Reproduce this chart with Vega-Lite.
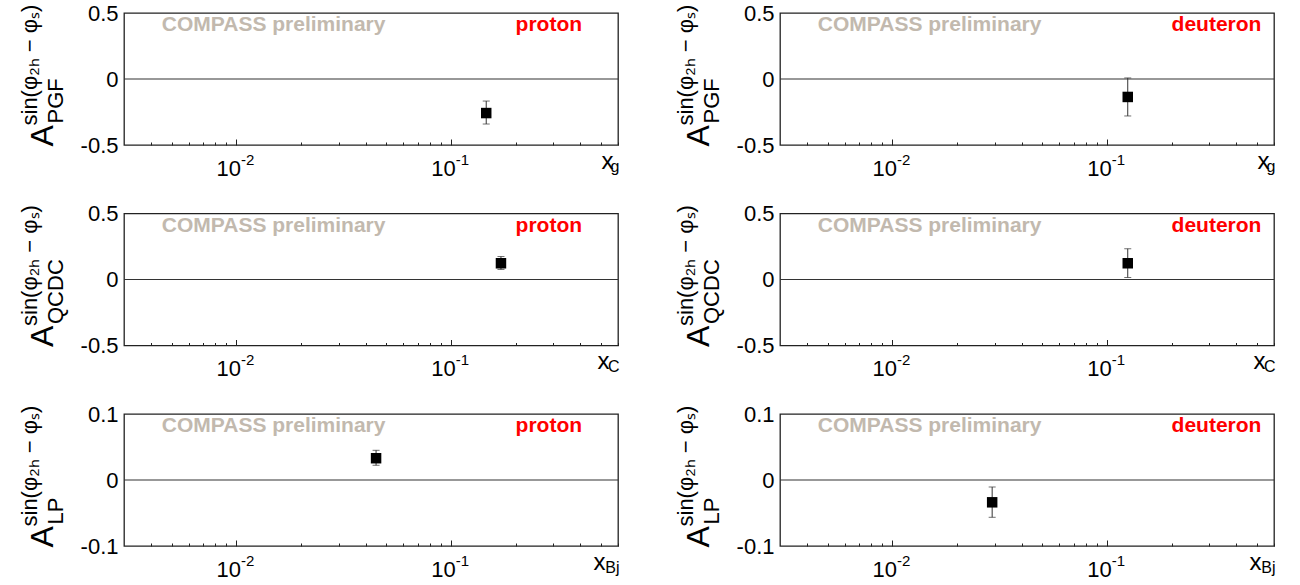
{
"$schema": "https://vega.github.io/schema/vega-lite/v6.json",
"background": "white",
"padding": {"left": 17, "top": 1, "right": 5, "bottom": 5},
"columns": 2,
"spacing": {"row": 68.5, "column": 162},
"bounds": "flush",
"config": {
  "font": "Liberation Sans",
  "view": {"stroke": "#222222", "strokeWidth": 1.3},
  "axis": {"grid": false, "domain": false, "labelFont": "Liberation Sans", "titleFont": "Liberation Sans", "labelColor": "#000000", "titleColor": "#000000", "titleFontWeight": "normal", "tickColor": "#222222", "labelFlush": false, "labelOverlap": false, "labelBound": false},
  "text": {"font": "Liberation Sans"}
},
"concat": [
{
"width": 494, "height": 132,
"data": {"values": [{"x": 0.146, "y": -0.258, "lo": -0.341, "hi": -0.167}]},
"resolve": {"axis": {"x": "independent", "y": "independent"}},
"layer": [
 {"mark": {"type": "rule", "color": "#333333", "strokeWidth": 1.2},
  "encoding": {"y": {"datum": 0, "type": "quantitative", "scale": {"domain": [-0.5, 0.5], "nice": false, "zero": false},
   "axis": {"orient": "left", "values": [-0.5, 0, 0.5], "ticks": false, "labelPadding": 6, "labelFontSize": 22, "labelExpr": "datum.value == 0 ? '0' : (datum.value < 0 ? '-' + toString(-datum.value) : toString(datum.value))", "title": "A", "titleFontSize": 32, "titleAngle": -90, "titleAlign": "left", "titleBaseline": "alphabetic", "titleX": -72, "titleY": 133}}}},
 {"mark": {"type": "errorbar", "color": "#333333", "thickness": 1, "ticks": {"size": 7}},
  "encoding": {"x": {"field": "x", "type": "quantitative", "scale": {"type": "log", "domain": [0.003, 0.6], "nice": false}, "axis": null},
   "y": {"field": "lo", "type": "quantitative", "scale": {"domain": [-0.5, 0.5], "nice": false, "zero": false}, "axis": null}, "y2": {"field": "hi"}}},
 {"mark": {"type": "point", "shape": "square", "filled": true, "size": 110, "color": "#000000", "opacity": 1},
  "encoding": {"x": {"field": "x", "type": "quantitative", "scale": {"type": "log", "domain": [0.003, 0.6], "nice": false},
    "axis": {"orient": "bottom", "values": [0.01, 0.1], "tickSize": -6, "tickWidth": 1, "labelExpr": "'10'", "labelFontSize": 22, "labelBaseline": "alphabetic", "labelPadding": 36, "labelOffset": -8, "title": "x", "titleFontSize": 24, "titleAlign": "right", "titleBaseline": "alphabetic", "titleX": 489, "titleY": 23}},
   "y": {"field": "y", "type": "quantitative", "scale": {"domain": [-0.5, 0.5], "nice": false, "zero": false},
    "axis": {"orient": "left", "ticks": false, "labels": false, "title": "PGF", "titleFontSize": 22, "titleAngle": -90, "titleAlign": "left", "titleBaseline": "alphabetic", "titleX": -62, "titleY": 110}}}},
 {"mark": {"type": "text", "text": "COMPASS preliminary", "align": "left", "baseline": "alphabetic", "fontSize": 21, "fontWeight": "bold", "color": "#c2b9ae"},
  "encoding": {"x": {"datum": 0.0045, "type": "quantitative", "scale": {"type": "log", "domain": [0.003, 0.6], "nice": false},
    "axis": {"orient": "bottom", "values": [0.004, 0.005, 0.006, 0.007, 0.008, 0.009, 0.02, 0.03, 0.04, 0.05, 0.06, 0.07, 0.08, 0.09, 0.2, 0.3, 0.4, 0.5, 0.6], "tickSize": -3, "tickWidth": 1, "labels": false, "title": "g", "titleFontSize": 16, "titleAlign": "right", "titleBaseline": "alphabetic", "titleX": 495, "titleY": 26}},
   "y": {"datum": 0.36, "type": "quantitative", "scale": {"domain": [-0.5, 0.5], "nice": false, "zero": false},
    "axis": {"orient": "left", "ticks": false, "labels": false, "title": "sin(φ₂ₕ − φₛ)", "titleFontSize": 22, "titleAngle": -90, "titleAlign": "left", "titleBaseline": "alphabetic", "titleX": -88, "titleY": 112}}}},
 {"mark": {"type": "text", "text": "proton", "align": "left", "baseline": "alphabetic", "fontSize": 21, "fontWeight": "bold", "color": "#ff0000"},
  "encoding": {"x": {"datum": 0.2, "type": "quantitative", "scale": {"type": "log", "domain": [0.003, 0.6], "nice": false},
    "axis": {"orient": "bottom", "values": [0.01, 0.1], "ticks": false, "labelExpr": "datum.value < 0.05 ? '-2' : '-1'", "labelFontSize": 15, "labelBaseline": "alphabetic", "labelPadding": 19, "labelOffset": 11, "title": null}},
   "y": {"datum": 0.36, "type": "quantitative", "scale": {"domain": [-0.5, 0.5], "nice": false, "zero": false}, "axis": null}}}
]
},
{
"width": 494, "height": 132,
"data": {"values": [{"x": 0.125, "y": -0.136, "lo": -0.28, "hi": 0.008}]},
"resolve": {"axis": {"x": "independent", "y": "independent"}},
"layer": [
 {"mark": {"type": "rule", "color": "#333333", "strokeWidth": 1.2},
  "encoding": {"y": {"datum": 0, "type": "quantitative", "scale": {"domain": [-0.5, 0.5], "nice": false, "zero": false},
   "axis": {"orient": "left", "values": [-0.5, 0, 0.5], "ticks": false, "labelPadding": 6, "labelFontSize": 22, "labelExpr": "datum.value == 0 ? '0' : (datum.value < 0 ? '-' + toString(-datum.value) : toString(datum.value))", "title": "A", "titleFontSize": 32, "titleAngle": -90, "titleAlign": "left", "titleBaseline": "alphabetic", "titleX": -72, "titleY": 133}}}},
 {"mark": {"type": "errorbar", "color": "#333333", "thickness": 1, "ticks": {"size": 7}},
  "encoding": {"x": {"field": "x", "type": "quantitative", "scale": {"type": "log", "domain": [0.003, 0.6], "nice": false}, "axis": null},
   "y": {"field": "lo", "type": "quantitative", "scale": {"domain": [-0.5, 0.5], "nice": false, "zero": false}, "axis": null}, "y2": {"field": "hi"}}},
 {"mark": {"type": "point", "shape": "square", "filled": true, "size": 110, "color": "#000000", "opacity": 1},
  "encoding": {"x": {"field": "x", "type": "quantitative", "scale": {"type": "log", "domain": [0.003, 0.6], "nice": false},
    "axis": {"orient": "bottom", "values": [0.01, 0.1], "tickSize": -6, "tickWidth": 1, "labelExpr": "'10'", "labelFontSize": 22, "labelBaseline": "alphabetic", "labelPadding": 36, "labelOffset": -8, "title": "x", "titleFontSize": 24, "titleAlign": "right", "titleBaseline": "alphabetic", "titleX": 489, "titleY": 23}},
   "y": {"field": "y", "type": "quantitative", "scale": {"domain": [-0.5, 0.5], "nice": false, "zero": false},
    "axis": {"orient": "left", "ticks": false, "labels": false, "title": "PGF", "titleFontSize": 22, "titleAngle": -90, "titleAlign": "left", "titleBaseline": "alphabetic", "titleX": -62, "titleY": 110}}}},
 {"mark": {"type": "text", "text": "COMPASS preliminary", "align": "left", "baseline": "alphabetic", "fontSize": 21, "fontWeight": "bold", "color": "#c2b9ae"},
  "encoding": {"x": {"datum": 0.0045, "type": "quantitative", "scale": {"type": "log", "domain": [0.003, 0.6], "nice": false},
    "axis": {"orient": "bottom", "values": [0.004, 0.005, 0.006, 0.007, 0.008, 0.009, 0.02, 0.03, 0.04, 0.05, 0.06, 0.07, 0.08, 0.09, 0.2, 0.3, 0.4, 0.5, 0.6], "tickSize": -3, "tickWidth": 1, "labels": false, "title": "g", "titleFontSize": 16, "titleAlign": "right", "titleBaseline": "alphabetic", "titleX": 495, "titleY": 26}},
   "y": {"datum": 0.36, "type": "quantitative", "scale": {"domain": [-0.5, 0.5], "nice": false, "zero": false},
    "axis": {"orient": "left", "ticks": false, "labels": false, "title": "sin(φ₂ₕ − φₛ)", "titleFontSize": 22, "titleAngle": -90, "titleAlign": "left", "titleBaseline": "alphabetic", "titleX": -88, "titleY": 112}}}},
 {"mark": {"type": "text", "text": "deuteron", "align": "left", "baseline": "alphabetic", "fontSize": 21, "fontWeight": "bold", "color": "#ff0000"},
  "encoding": {"x": {"datum": 0.2, "type": "quantitative", "scale": {"type": "log", "domain": [0.003, 0.6], "nice": false},
    "axis": {"orient": "bottom", "values": [0.01, 0.1], "ticks": false, "labelExpr": "datum.value < 0.05 ? '-2' : '-1'", "labelFontSize": 15, "labelBaseline": "alphabetic", "labelPadding": 19, "labelOffset": 11, "title": null}},
   "y": {"datum": 0.36, "type": "quantitative", "scale": {"domain": [-0.5, 0.5], "nice": false, "zero": false}, "axis": null}}}
]
},
{
"width": 494, "height": 132,
"data": {"values": [{"x": 0.171, "y": 0.123, "lo": 0.076, "hi": 0.174}]},
"resolve": {"axis": {"x": "independent", "y": "independent"}},
"layer": [
 {"mark": {"type": "rule", "color": "#333333", "strokeWidth": 1.2},
  "encoding": {"y": {"datum": 0, "type": "quantitative", "scale": {"domain": [-0.5, 0.5], "nice": false, "zero": false},
   "axis": {"orient": "left", "values": [-0.5, 0, 0.5], "ticks": false, "labelPadding": 6, "labelFontSize": 22, "labelExpr": "datum.value == 0 ? '0' : (datum.value < 0 ? '-' + toString(-datum.value) : toString(datum.value))", "title": "A", "titleFontSize": 32, "titleAngle": -90, "titleAlign": "left", "titleBaseline": "alphabetic", "titleX": -72, "titleY": 133}}}},
 {"mark": {"type": "errorbar", "color": "#333333", "thickness": 1, "ticks": {"size": 7}},
  "encoding": {"x": {"field": "x", "type": "quantitative", "scale": {"type": "log", "domain": [0.003, 0.6], "nice": false}, "axis": null},
   "y": {"field": "lo", "type": "quantitative", "scale": {"domain": [-0.5, 0.5], "nice": false, "zero": false}, "axis": null}, "y2": {"field": "hi"}}},
 {"mark": {"type": "point", "shape": "square", "filled": true, "size": 110, "color": "#000000", "opacity": 1},
  "encoding": {"x": {"field": "x", "type": "quantitative", "scale": {"type": "log", "domain": [0.003, 0.6], "nice": false},
    "axis": {"orient": "bottom", "values": [0.01, 0.1], "tickSize": -6, "tickWidth": 1, "labelExpr": "'10'", "labelFontSize": 22, "labelBaseline": "alphabetic", "labelPadding": 36, "labelOffset": -8, "title": "x", "titleFontSize": 24, "titleAlign": "right", "titleBaseline": "alphabetic", "titleX": 485, "titleY": 23}},
   "y": {"field": "y", "type": "quantitative", "scale": {"domain": [-0.5, 0.5], "nice": false, "zero": false},
    "axis": {"orient": "left", "ticks": false, "labels": false, "title": "QCDC", "titleFontSize": 22, "titleAngle": -90, "titleAlign": "left", "titleBaseline": "alphabetic", "titleX": -62, "titleY": 110}}}},
 {"mark": {"type": "text", "text": "COMPASS preliminary", "align": "left", "baseline": "alphabetic", "fontSize": 21, "fontWeight": "bold", "color": "#c2b9ae"},
  "encoding": {"x": {"datum": 0.0045, "type": "quantitative", "scale": {"type": "log", "domain": [0.003, 0.6], "nice": false},
    "axis": {"orient": "bottom", "values": [0.004, 0.005, 0.006, 0.007, 0.008, 0.009, 0.02, 0.03, 0.04, 0.05, 0.06, 0.07, 0.08, 0.09, 0.2, 0.3, 0.4, 0.5, 0.6], "tickSize": -3, "tickWidth": 1, "labels": false, "title": "C", "titleFontSize": 16, "titleAlign": "right", "titleBaseline": "alphabetic", "titleX": 495, "titleY": 26}},
   "y": {"datum": 0.36, "type": "quantitative", "scale": {"domain": [-0.5, 0.5], "nice": false, "zero": false},
    "axis": {"orient": "left", "ticks": false, "labels": false, "title": "sin(φ₂ₕ − φₛ)", "titleFontSize": 22, "titleAngle": -90, "titleAlign": "left", "titleBaseline": "alphabetic", "titleX": -88, "titleY": 112}}}},
 {"mark": {"type": "text", "text": "proton", "align": "left", "baseline": "alphabetic", "fontSize": 21, "fontWeight": "bold", "color": "#ff0000"},
  "encoding": {"x": {"datum": 0.2, "type": "quantitative", "scale": {"type": "log", "domain": [0.003, 0.6], "nice": false},
    "axis": {"orient": "bottom", "values": [0.01, 0.1], "ticks": false, "labelExpr": "datum.value < 0.05 ? '-2' : '-1'", "labelFontSize": 15, "labelBaseline": "alphabetic", "labelPadding": 19, "labelOffset": 11, "title": null}},
   "y": {"datum": 0.36, "type": "quantitative", "scale": {"domain": [-0.5, 0.5], "nice": false, "zero": false}, "axis": null}}}
]
},
{
"width": 494, "height": 132,
"data": {"values": [{"x": 0.125, "y": 0.123, "lo": 0.015, "hi": 0.233}]},
"resolve": {"axis": {"x": "independent", "y": "independent"}},
"layer": [
 {"mark": {"type": "rule", "color": "#333333", "strokeWidth": 1.2},
  "encoding": {"y": {"datum": 0, "type": "quantitative", "scale": {"domain": [-0.5, 0.5], "nice": false, "zero": false},
   "axis": {"orient": "left", "values": [-0.5, 0, 0.5], "ticks": false, "labelPadding": 6, "labelFontSize": 22, "labelExpr": "datum.value == 0 ? '0' : (datum.value < 0 ? '-' + toString(-datum.value) : toString(datum.value))", "title": "A", "titleFontSize": 32, "titleAngle": -90, "titleAlign": "left", "titleBaseline": "alphabetic", "titleX": -72, "titleY": 133}}}},
 {"mark": {"type": "errorbar", "color": "#333333", "thickness": 1, "ticks": {"size": 7}},
  "encoding": {"x": {"field": "x", "type": "quantitative", "scale": {"type": "log", "domain": [0.003, 0.6], "nice": false}, "axis": null},
   "y": {"field": "lo", "type": "quantitative", "scale": {"domain": [-0.5, 0.5], "nice": false, "zero": false}, "axis": null}, "y2": {"field": "hi"}}},
 {"mark": {"type": "point", "shape": "square", "filled": true, "size": 110, "color": "#000000", "opacity": 1},
  "encoding": {"x": {"field": "x", "type": "quantitative", "scale": {"type": "log", "domain": [0.003, 0.6], "nice": false},
    "axis": {"orient": "bottom", "values": [0.01, 0.1], "tickSize": -6, "tickWidth": 1, "labelExpr": "'10'", "labelFontSize": 22, "labelBaseline": "alphabetic", "labelPadding": 36, "labelOffset": -8, "title": "x", "titleFontSize": 24, "titleAlign": "right", "titleBaseline": "alphabetic", "titleX": 485, "titleY": 23}},
   "y": {"field": "y", "type": "quantitative", "scale": {"domain": [-0.5, 0.5], "nice": false, "zero": false},
    "axis": {"orient": "left", "ticks": false, "labels": false, "title": "QCDC", "titleFontSize": 22, "titleAngle": -90, "titleAlign": "left", "titleBaseline": "alphabetic", "titleX": -62, "titleY": 110}}}},
 {"mark": {"type": "text", "text": "COMPASS preliminary", "align": "left", "baseline": "alphabetic", "fontSize": 21, "fontWeight": "bold", "color": "#c2b9ae"},
  "encoding": {"x": {"datum": 0.0045, "type": "quantitative", "scale": {"type": "log", "domain": [0.003, 0.6], "nice": false},
    "axis": {"orient": "bottom", "values": [0.004, 0.005, 0.006, 0.007, 0.008, 0.009, 0.02, 0.03, 0.04, 0.05, 0.06, 0.07, 0.08, 0.09, 0.2, 0.3, 0.4, 0.5, 0.6], "tickSize": -3, "tickWidth": 1, "labels": false, "title": "C", "titleFontSize": 16, "titleAlign": "right", "titleBaseline": "alphabetic", "titleX": 495, "titleY": 26}},
   "y": {"datum": 0.36, "type": "quantitative", "scale": {"domain": [-0.5, 0.5], "nice": false, "zero": false},
    "axis": {"orient": "left", "ticks": false, "labels": false, "title": "sin(φ₂ₕ − φₛ)", "titleFontSize": 22, "titleAngle": -90, "titleAlign": "left", "titleBaseline": "alphabetic", "titleX": -88, "titleY": 112}}}},
 {"mark": {"type": "text", "text": "deuteron", "align": "left", "baseline": "alphabetic", "fontSize": 21, "fontWeight": "bold", "color": "#ff0000"},
  "encoding": {"x": {"datum": 0.2, "type": "quantitative", "scale": {"type": "log", "domain": [0.003, 0.6], "nice": false},
    "axis": {"orient": "bottom", "values": [0.01, 0.1], "ticks": false, "labelExpr": "datum.value < 0.05 ? '-2' : '-1'", "labelFontSize": 15, "labelBaseline": "alphabetic", "labelPadding": 19, "labelOffset": 11, "title": null}},
   "y": {"datum": 0.36, "type": "quantitative", "scale": {"domain": [-0.5, 0.5], "nice": false, "zero": false}, "axis": null}}}
]
},
{
"width": 494, "height": 132,
"data": {"values": [{"x": 0.0448, "y": 0.033, "lo": 0.0223, "hi": 0.045}]},
"resolve": {"axis": {"x": "independent", "y": "independent"}},
"layer": [
 {"mark": {"type": "rule", "color": "#333333", "strokeWidth": 1.2},
  "encoding": {"y": {"datum": 0, "type": "quantitative", "scale": {"domain": [-0.1, 0.1], "nice": false, "zero": false},
   "axis": {"orient": "left", "values": [-0.1, 0, 0.1], "ticks": false, "labelPadding": 6, "labelFontSize": 22, "labelExpr": "datum.value == 0 ? '0' : (datum.value < 0 ? '-' + toString(-datum.value) : toString(datum.value))", "title": "A", "titleFontSize": 32, "titleAngle": -90, "titleAlign": "left", "titleBaseline": "alphabetic", "titleX": -72, "titleY": 133}}}},
 {"mark": {"type": "errorbar", "color": "#333333", "thickness": 1, "ticks": {"size": 7}},
  "encoding": {"x": {"field": "x", "type": "quantitative", "scale": {"type": "log", "domain": [0.003, 0.6], "nice": false}, "axis": null},
   "y": {"field": "lo", "type": "quantitative", "scale": {"domain": [-0.1, 0.1], "nice": false, "zero": false}, "axis": null}, "y2": {"field": "hi"}}},
 {"mark": {"type": "point", "shape": "square", "filled": true, "size": 110, "color": "#000000", "opacity": 1},
  "encoding": {"x": {"field": "x", "type": "quantitative", "scale": {"type": "log", "domain": [0.003, 0.6], "nice": false},
    "axis": {"orient": "bottom", "values": [0.01, 0.1], "tickSize": -6, "tickWidth": 1, "labelExpr": "'10'", "labelFontSize": 22, "labelBaseline": "alphabetic", "labelPadding": 36, "labelOffset": -8, "title": "x", "titleFontSize": 24, "titleAlign": "right", "titleBaseline": "alphabetic", "titleX": 481, "titleY": 23}},
   "y": {"field": "y", "type": "quantitative", "scale": {"domain": [-0.1, 0.1], "nice": false, "zero": false},
    "axis": {"orient": "left", "ticks": false, "labels": false, "title": "LP", "titleFontSize": 22, "titleAngle": -90, "titleAlign": "left", "titleBaseline": "alphabetic", "titleX": -62, "titleY": 110}}}},
 {"mark": {"type": "text", "text": "COMPASS preliminary", "align": "left", "baseline": "alphabetic", "fontSize": 21, "fontWeight": "bold", "color": "#c2b9ae"},
  "encoding": {"x": {"datum": 0.0045, "type": "quantitative", "scale": {"type": "log", "domain": [0.003, 0.6], "nice": false},
    "axis": {"orient": "bottom", "values": [0.004, 0.005, 0.006, 0.007, 0.008, 0.009, 0.02, 0.03, 0.04, 0.05, 0.06, 0.07, 0.08, 0.09, 0.2, 0.3, 0.4, 0.5, 0.6], "tickSize": -3, "tickWidth": 1, "labels": false, "title": "Bj", "titleFontSize": 16, "titleAlign": "right", "titleBaseline": "alphabetic", "titleX": 495, "titleY": 26}},
   "y": {"datum": 0.072, "type": "quantitative", "scale": {"domain": [-0.1, 0.1], "nice": false, "zero": false},
    "axis": {"orient": "left", "ticks": false, "labels": false, "title": "sin(φ₂ₕ − φₛ)", "titleFontSize": 22, "titleAngle": -90, "titleAlign": "left", "titleBaseline": "alphabetic", "titleX": -88, "titleY": 112}}}},
 {"mark": {"type": "text", "text": "proton", "align": "left", "baseline": "alphabetic", "fontSize": 21, "fontWeight": "bold", "color": "#ff0000"},
  "encoding": {"x": {"datum": 0.2, "type": "quantitative", "scale": {"type": "log", "domain": [0.003, 0.6], "nice": false},
    "axis": {"orient": "bottom", "values": [0.01, 0.1], "ticks": false, "labelExpr": "datum.value < 0.05 ? '-2' : '-1'", "labelFontSize": 15, "labelBaseline": "alphabetic", "labelPadding": 19, "labelOffset": 11, "title": null}},
   "y": {"datum": 0.072, "type": "quantitative", "scale": {"domain": [-0.1, 0.1], "nice": false, "zero": false}, "axis": null}}}
]
},
{
"width": 494, "height": 132,
"data": {"values": [{"x": 0.0292, "y": -0.0338, "lo": -0.0565, "hi": -0.0106}]},
"resolve": {"axis": {"x": "independent", "y": "independent"}},
"layer": [
 {"mark": {"type": "rule", "color": "#333333", "strokeWidth": 1.2},
  "encoding": {"y": {"datum": 0, "type": "quantitative", "scale": {"domain": [-0.1, 0.1], "nice": false, "zero": false},
   "axis": {"orient": "left", "values": [-0.1, 0, 0.1], "ticks": false, "labelPadding": 6, "labelFontSize": 22, "labelExpr": "datum.value == 0 ? '0' : (datum.value < 0 ? '-' + toString(-datum.value) : toString(datum.value))", "title": "A", "titleFontSize": 32, "titleAngle": -90, "titleAlign": "left", "titleBaseline": "alphabetic", "titleX": -72, "titleY": 133}}}},
 {"mark": {"type": "errorbar", "color": "#333333", "thickness": 1, "ticks": {"size": 7}},
  "encoding": {"x": {"field": "x", "type": "quantitative", "scale": {"type": "log", "domain": [0.003, 0.6], "nice": false}, "axis": null},
   "y": {"field": "lo", "type": "quantitative", "scale": {"domain": [-0.1, 0.1], "nice": false, "zero": false}, "axis": null}, "y2": {"field": "hi"}}},
 {"mark": {"type": "point", "shape": "square", "filled": true, "size": 110, "color": "#000000", "opacity": 1},
  "encoding": {"x": {"field": "x", "type": "quantitative", "scale": {"type": "log", "domain": [0.003, 0.6], "nice": false},
    "axis": {"orient": "bottom", "values": [0.01, 0.1], "tickSize": -6, "tickWidth": 1, "labelExpr": "'10'", "labelFontSize": 22, "labelBaseline": "alphabetic", "labelPadding": 36, "labelOffset": -8, "title": "x", "titleFontSize": 24, "titleAlign": "right", "titleBaseline": "alphabetic", "titleX": 481, "titleY": 23}},
   "y": {"field": "y", "type": "quantitative", "scale": {"domain": [-0.1, 0.1], "nice": false, "zero": false},
    "axis": {"orient": "left", "ticks": false, "labels": false, "title": "LP", "titleFontSize": 22, "titleAngle": -90, "titleAlign": "left", "titleBaseline": "alphabetic", "titleX": -62, "titleY": 110}}}},
 {"mark": {"type": "text", "text": "COMPASS preliminary", "align": "left", "baseline": "alphabetic", "fontSize": 21, "fontWeight": "bold", "color": "#c2b9ae"},
  "encoding": {"x": {"datum": 0.0045, "type": "quantitative", "scale": {"type": "log", "domain": [0.003, 0.6], "nice": false},
    "axis": {"orient": "bottom", "values": [0.004, 0.005, 0.006, 0.007, 0.008, 0.009, 0.02, 0.03, 0.04, 0.05, 0.06, 0.07, 0.08, 0.09, 0.2, 0.3, 0.4, 0.5, 0.6], "tickSize": -3, "tickWidth": 1, "labels": false, "title": "Bj", "titleFontSize": 16, "titleAlign": "right", "titleBaseline": "alphabetic", "titleX": 495, "titleY": 26}},
   "y": {"datum": 0.072, "type": "quantitative", "scale": {"domain": [-0.1, 0.1], "nice": false, "zero": false},
    "axis": {"orient": "left", "ticks": false, "labels": false, "title": "sin(φ₂ₕ − φₛ)", "titleFontSize": 22, "titleAngle": -90, "titleAlign": "left", "titleBaseline": "alphabetic", "titleX": -88, "titleY": 112}}}},
 {"mark": {"type": "text", "text": "deuteron", "align": "left", "baseline": "alphabetic", "fontSize": 21, "fontWeight": "bold", "color": "#ff0000"},
  "encoding": {"x": {"datum": 0.2, "type": "quantitative", "scale": {"type": "log", "domain": [0.003, 0.6], "nice": false},
    "axis": {"orient": "bottom", "values": [0.01, 0.1], "ticks": false, "labelExpr": "datum.value < 0.05 ? '-2' : '-1'", "labelFontSize": 15, "labelBaseline": "alphabetic", "labelPadding": 19, "labelOffset": 11, "title": null}},
   "y": {"datum": 0.072, "type": "quantitative", "scale": {"domain": [-0.1, 0.1], "nice": false, "zero": false}, "axis": null}}}
]
}
]
}
